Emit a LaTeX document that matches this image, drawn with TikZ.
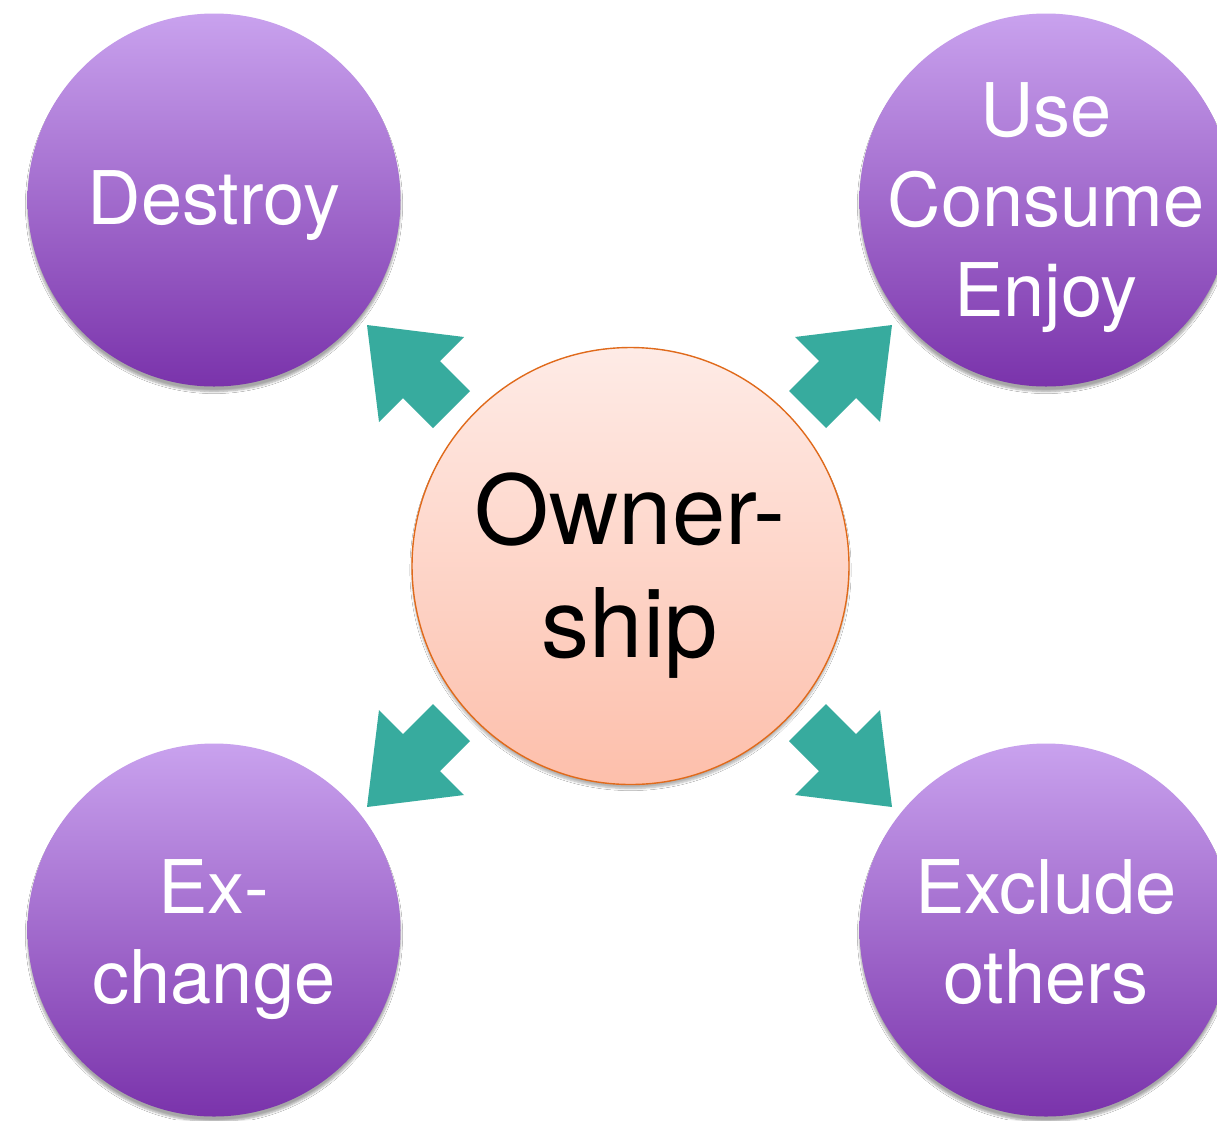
\documentclass[tikz,border=0pt]{standalone}
\usepackage{fontspec}
\setmainfont{TeX Gyre Heros}
\usetikzlibrary{shadows.blur}
\definecolor{purpleTop}{HTML}{C9A2EE}
\definecolor{purpleBot}{HTML}{7A33AB}
\definecolor{ownTop}{HTML}{FEEBE6}
\definecolor{ownBot}{HTML}{FDBFAB}
\definecolor{ownLine}{HTML}{E06A1B}
\definecolor{tealArrow}{HTML}{37AB9E}
\tikzset{
  bubble/.style={circle, minimum size=373pt, inner sep=0pt, top color=purpleTop, bottom color=purpleBot, draw=none,
    blur shadow={shadow xshift=0pt, shadow yshift=-5pt, shadow blur steps=6, shadow opacity=35}},
  bubbletext/.style={text=white, align=center, inner sep=0pt, font=\fontsize{74}{90}\selectfont},
  core/.style={circle, minimum size=437pt, inner sep=0pt, top color=ownTop, bottom color=ownBot, draw=ownLine, line width=1.4pt,
    blur shadow={shadow xshift=0pt, shadow yshift=-4pt, shadow blur steps=6, shadow opacity=30}},
  coretext/.style={text=black, align=center, inner sep=0pt, font=\fontsize{96}{113}\selectfont},
  blockarrow/.style={fill=tealArrow, draw=none}
}
\begin{document}
\begin{tikzpicture}[x=1pt, y=-1pt]
\useasboundingbox (0,0) rectangle (1217,1120);
\clip (0,0) rectangle (1217,1120);
\fill[white] (0,0) rectangle (1217,1120);

% outer circles
\node[bubble] (destroy) at (214,200) {};
\node[bubble] (use) at (1046,200) {};
\node[bubble] (exchange) at (214,930) {};
\node[bubble] (exclude) at (1046,930) {};

\node[bubbletext] (destroyT) at (214,206) {Destroy};
\node[bubbletext] (useT) at (1046,208) {Use\\Consume\\Enjoy};
\node[bubbletext] (exchangeT) at (214,940) {Ex-\\change};
\node[bubbletext] (excludeT) at (1046,932) {Exclude\\others};

% centre
\node[core] (own) at (630.5,566) {};
\node[coretext] (ownT) at (630,576) {Owner-\\ship};

% block arrows
\foreach \sx/\sy in {1/1, -1/1, 1/-1, -1/-1}{
  \begin{scope}[shift={(629.5,566)}, xscale=\sx, yscale=\sy]
    \path[blockarrow] (-262.5,-241) -- (-165.5,-229) -- (-189.5,-205) -- (-159.5,-175)
      -- (-196.5,-138) -- (-226.5,-168) -- (-250.5,-144) -- cycle;
  \end{scope}
}
\end{tikzpicture}
\end{document}
